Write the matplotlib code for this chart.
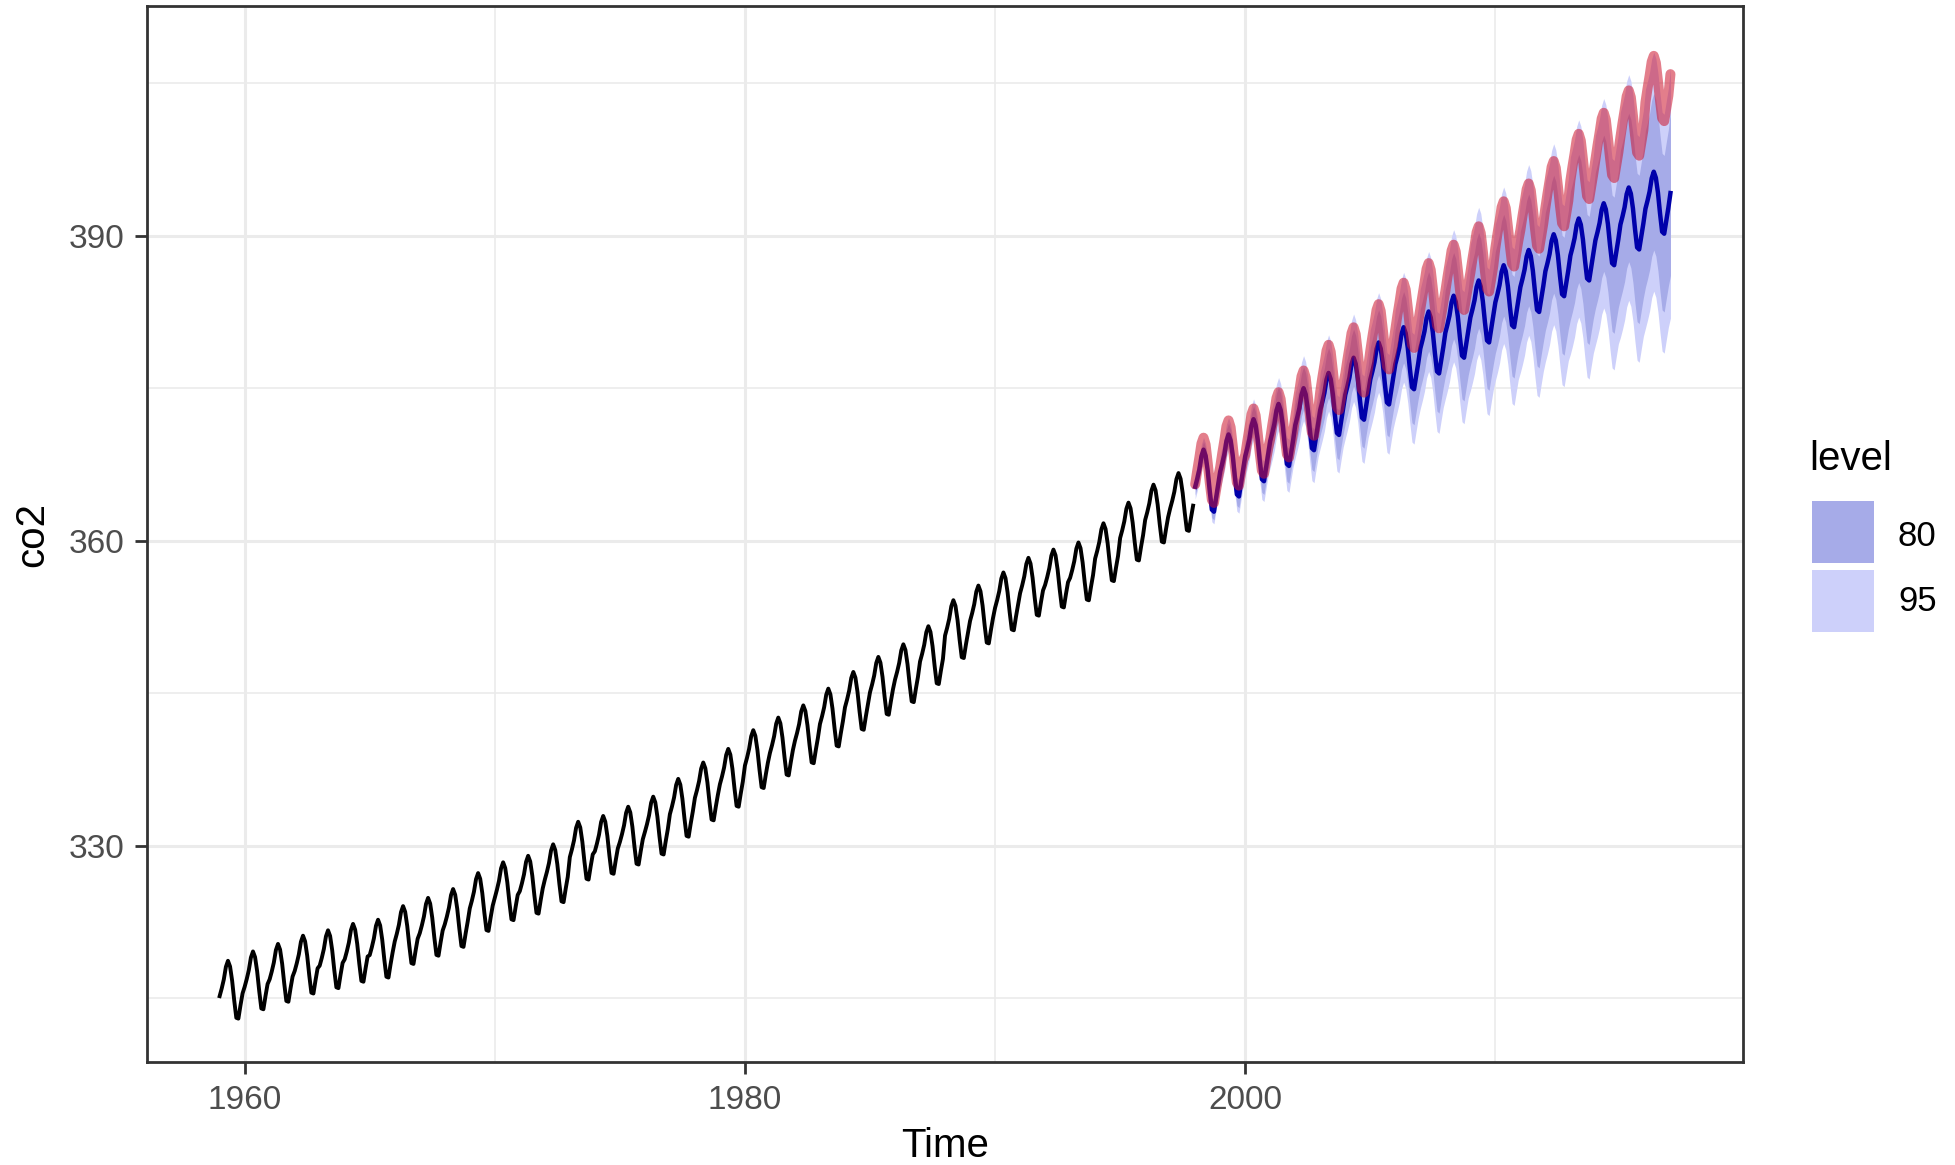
import numpy as np
import matplotlib
matplotlib.use("Agg")
import matplotlib.pyplot as plt
from matplotlib.patches import Rectangle

plt.rcParams["font.family"] = ["Liberation Sans", "DejaVu Sans"]

# observed monthly co2 1959-1997: annual level + month-of-year offset
hist_years = np.arange(1959, 1998)
hist_annual = [315.83, 316.75, 317.49, 318.30, 318.83, 319.46, 319.87, 321.21,
               322.02, 322.89, 324.46, 325.52, 326.16, 327.29, 329.51, 330.08,
               330.99, 331.98, 333.73, 335.34, 336.68, 338.52, 339.76, 340.96,
               342.61, 344.25, 345.73, 346.97, 348.75, 351.31, 352.75, 354.04,
               355.48, 356.29, 356.99, 358.88, 360.91, 362.68, 363.82]
hist_season = [-0.65, 0.11, 0.99, 2.23, 2.83, 2.27, 0.87, -1.08, -2.78, -2.86, -1.56, -0.38]

# forecast Jan 1998 - Jan 2017
fc_years = np.arange(1998, 2018)
fc_annual = [365.9, 367.4, 368.9, 370.4, 371.95, 373.45, 374.95, 376.45, 377.95,
             379.5, 381.05, 382.55, 384.05, 385.55, 387.1, 388.65, 390.15, 391.7,
             393.25, 394.8]
fc_season = [-0.6, 0.2, 1.1, 2.4, 3.05, 2.45, 1.0, -1.05, -2.85, -3.05, -1.75, -0.5]
pi80_half = [0.8, 1.1, 1.3, 1.7, 2.1, 2.45, 2.8, 3.2, 3.5, 3.9, 4.25, 4.7, 5.0,
             5.5, 5.8, 6.3, 6.7, 7.3, 7.7, 8.1]
pi95_half = [1.2, 1.65, 2.0, 2.6, 3.2, 3.75, 4.3, 4.9, 5.4, 5.9, 6.5, 7.2, 7.7,
             8.4, 8.9, 9.7, 10.3, 11.1, 11.75, 12.3]

# actual observations Jan 1998 - Jan 2017
obs_annual = [366.84, 368.54, 369.71, 371.32, 373.45, 375.98, 377.70, 379.98,
              382.09, 384.02, 385.83, 387.64, 390.10, 391.85, 394.06, 396.74,
              398.81, 401.01, 404.41, 407.2]
obs_season = [-1.3, 0.07, 1.33, 2.71, 3.29, 2.61, 0.81, -1.12, -2.82, -3.13, -1.86, -0.63]
n_fc = 229  # months shown: Jan 1998 .. Jan 2017


def monthly(years, annual, season):
    t = np.repeat(years, 12) + np.tile(np.arange(12) / 12, len(years))
    v = np.repeat(annual, 12) + np.tile(season, len(years))
    return t, v


t_hist, v_hist = monthly(hist_years, hist_annual, hist_season)
t_fc, v_fc = monthly(fc_years, fc_annual, fc_season)
t_obs, v_obs = monthly(fc_years, obs_annual, obs_season)
t_fc, v_fc = t_fc[:n_fc], v_fc[:n_fc]
t_obs, v_obs = t_obs[:n_fc], v_obs[:n_fc]
h80 = np.repeat(pi80_half, 12)[:n_fc]
h95 = np.repeat(pi95_half, 12)[:n_fc]

fig = plt.figure(figsize=(9.78, 5.825), dpi=200)
ax = fig.add_axes([0.0752, 0.0884, 0.8159, 0.9064])

ax.fill_between(t_fc, v_fc - h95, v_fc + h95, color="#CDD0FA", lw=0, zorder=2)
ax.fill_between(t_fc, v_fc - h80, v_fc + h80, color="#A6ABE8", lw=0, zorder=3)
ax.plot(t_hist, v_hist, color="black", lw=1.4, zorder=4)
ax.plot(t_fc, v_fc, color="#0000AA", lw=1.6, zorder=5)
ax.plot(t_obs, v_obs, color="#CD142D", alpha=0.55, lw=3.6, zorder=6,
        solid_capstyle="round")

ax.set_xlim(1956.1, 2019.9)
ax.set_ylim(308.7, 412.6)
ax.set_xticks([1960, 1980, 2000])
ax.set_xticks([1970, 1990, 2010], minor=True)
ax.set_yticks([330, 360, 390])
ax.set_yticks([315, 345, 375, 405], minor=True)
ax.grid(which="major", color="#EBEBEB", lw=1.1, zorder=0)
ax.grid(which="minor", color="#EBEBEB", lw=0.6, zorder=0)
ax.set_axisbelow(True)
ax.tick_params(which="major", length=4.3, width=1.0, color="#333333",
               labelsize=12, labelcolor="#4D4D4D", pad=4)
ax.tick_params(which="minor", length=0)
for s in ax.spines.values():
    s.set_color("#333333")
    s.set_linewidth(1.0)

ax.set_xlabel("Time", fontsize=14.5)
ax.set_ylabel("co2", fontsize=14.5)
ax.xaxis.set_label_coords(0.5, -0.0795)
ax.xaxis.label.set_va("center")
ax.yaxis.set_label_coords(-0.072, 0.5)
ax.yaxis.label.set_va("center")

# legend
fig.text(0.9249, 0.606, "level", fontsize=14.5, va="center", ha="left")
fig.add_artist(Rectangle((0.9264, 0.5167), 0.0317, 0.0532,
                         transform=fig.transFigure, color="#A6ABE8", lw=0))
fig.add_artist(Rectangle((0.9264, 0.4575), 0.0317, 0.0532,
                         transform=fig.transFigure, color="#CDD0FA", lw=0))
fig.text(0.9703, 0.5393, "80", fontsize=12.5, va="center", ha="left")
fig.text(0.9703, 0.4835, "95", fontsize=12.5, va="center", ha="left")

fig.savefig("out.png", dpi=200)
